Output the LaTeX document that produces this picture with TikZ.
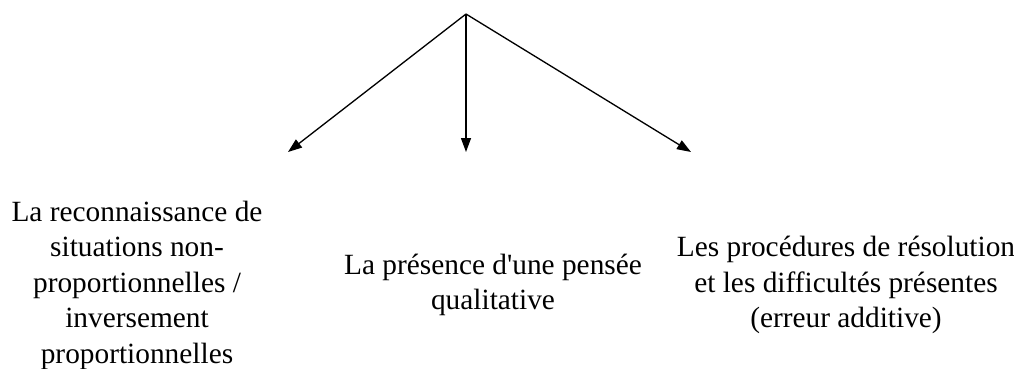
\documentclass[tikz,border=0pt]{standalone}
\usepackage{fontspec}
\setmainfont{Liberation Serif}
\usetikzlibrary{arrows.meta}

\begin{document}
\begin{tikzpicture}[
  x=0.2mm, y=-0.2mm,
  txt/.style={align=center, inner sep=0pt, font=\fontsize{16.7}{20.2}\selectfont},
  arr/.style={-{Triangle[length=2.8mm, width=2mm]}, line width=0.75pt},
]
  \useasboundingbox (0,0) rectangle (1014,368);

  \coordinate (top) at (466,14);
  \coordinate (tipl) at (288,152);
  \coordinate (tipm) at (466,152);
  \coordinate (tipr) at (691,152);

  \node[txt] (reco) at (137,285) {La reconnaissance de\\situations non-\\proportionnelles /\\inversement\\proportionnelles};
  \node[txt] (pres) at (493,285) {La présence d\textquotesingle une pensée\\qualitative};
  \node[txt] (proc) at (846,285) {Les procédures de résolution\\et les difficultés présentes\\(erreur additive)};

  \draw[arr] (top) -- (tipl);
  \draw[arr] (top) -- (tipm);
  \draw[arr] (top) -- (tipr);
\end{tikzpicture}
\end{document}
